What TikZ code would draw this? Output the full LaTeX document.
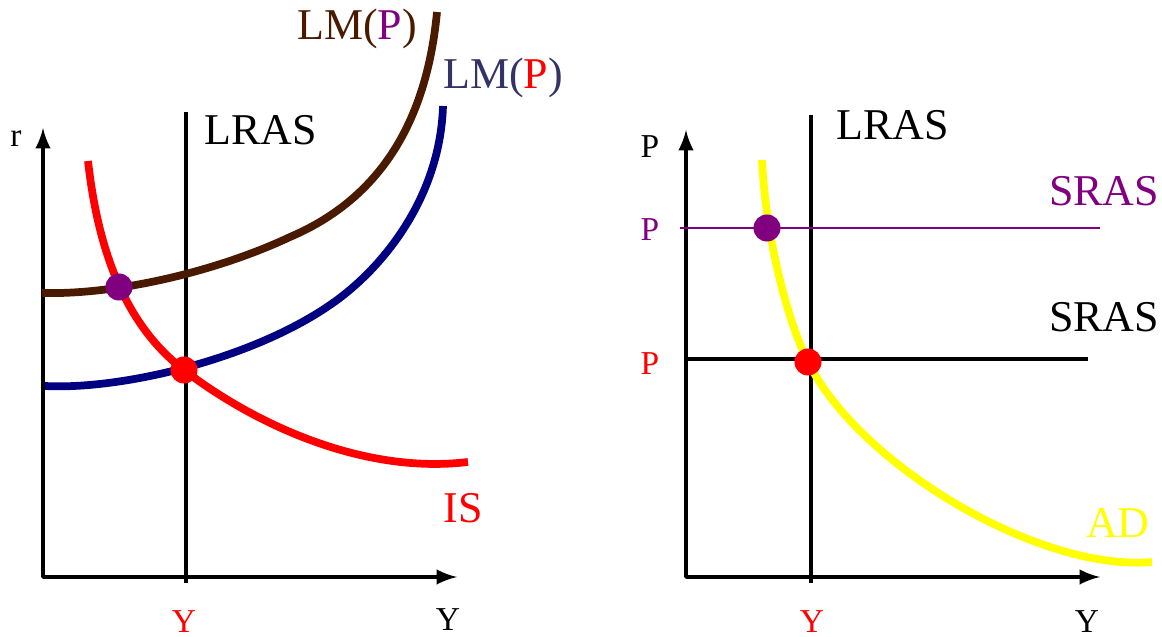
\documentclass[tikz,border=0pt]{standalone}
\usepackage{fontspec}
\setmainfont{Liberation Serif}
\definecolor{lmbrown}{HTML}{4A1A00}
\definecolor{ppl}{HTML}{800080}
\definecolor{lmnavy}{HTML}{000080}
\definecolor{lmslate}{HTML}{333366}
\definecolor{adyel}{HTML}{FFFF00}
\begin{document}
\begin{tikzpicture}[x=0.01cm, y=-0.01cm, line join=round, >=latex,
		big/.style={font=\fontsize{12.5}{15}\selectfont, inner sep=0pt},
		small/.style={font=\fontsize{9.5}{11}\selectfont, inner sep=0pt},
		axis/.style={line width=1pt, <->},
		curve/.style={line width=2.2pt},
		dot/.style={circle, inner sep=0pt, minimum size=0.27cm}]
	\useasboundingbox (0,0) rectangle (1162,637);
	% IS-LM
	\coordinate (rtop) at (43,128); \coordinate (y1end) at (457,577);
	\draw[axis] (rtop) |- (y1end);
	\coordinate (lr1t) at (186,112); \coordinate (lr1b) at (186,583);
	\draw[line width=1.3pt] (lr1t) -- (lr1b);
	\node[small] (r) at (16,139) {r};
	\node[small] (y1) at (448,620) {Y};
	\node[small, red] (y1e) at (184,622) {Y};
	\node[big, anchor=west] (lras1) at (204,130) {LRAS};
	\draw[curve, red] (88,161) .. controls (98,250) and (125,325) .. (184,370) .. controls (250,421) and (360,475) .. (468,462);
	\draw[curve, lmbrown] (42,293) .. controls (120,295) and (220,270) .. (290,237) .. controls (365,205) and (425,140) .. (437,12);
	\draw[curve, lmnavy] (45,386) .. controls (120,390) and (250,360) .. (330,305) .. controls (380,271) and (440,200) .. (443,106);
	\node[big, lmbrown] (lm1) at (357,29) {LM(\textcolor{ppl}{P})};
	\node[big, lmslate] (lm0) at (503,78) {LM(\textcolor{red}{P})};
	\node[big, red] (is) at (463,508) {IS};
	\node[dot, fill=ppl] (e1) at (119,287) {};
	\node[dot, fill=red] (e0) at (184,370) {};
	% AS-AD
	\coordinate (ptop) at (686,130); \coordinate (y2end) at (1100,577);
	\draw[axis] (ptop) |- (y2end);
	\coordinate (lr2t) at (811,115); \coordinate (lr2b) at (811,583);
	\draw[line width=1.3pt] (lr2t) -- (lr2b);
	\coordinate (s1l) at (680,228); \coordinate (s1r) at (1100,228);
	\draw[ppl, line width=0.6pt] (s1l) -- (s1r);
	\coordinate (s0l) at (686,359); \coordinate (s0r) at (1088,359);
	\draw[line width=1.3pt] (s0l) -- (s0r);
	\draw[curve, adyel] (762,160) .. controls (766,240) and (788,322) .. (808,362) .. controls (860,466) and (1040,572) .. (1152,562);
	\node[small] (p) at (650,147) {P};
	\node[small, ppl] (p1) at (650,230) {P};
	\node[small, red] (p0) at (650,364) {P};
	\node[small] (y2) at (1087,622) {Y};
	\node[small, red] (y2e) at (812,622) {Y};
	\node[big, anchor=west] (lras2) at (836,125) {LRAS};
	\node[big, ppl] (sras1) at (1104,191) {SRAS};
	\node[big] (sras0) at (1104,317) {SRAS};
	\node[big, adyel] (ad) at (1118,523) {AD};
	\node[dot, fill=ppl] (f1) at (767,228) {};
	\node[dot, fill=red] (f0) at (808,362) {};
\end{tikzpicture}
\end{document}
